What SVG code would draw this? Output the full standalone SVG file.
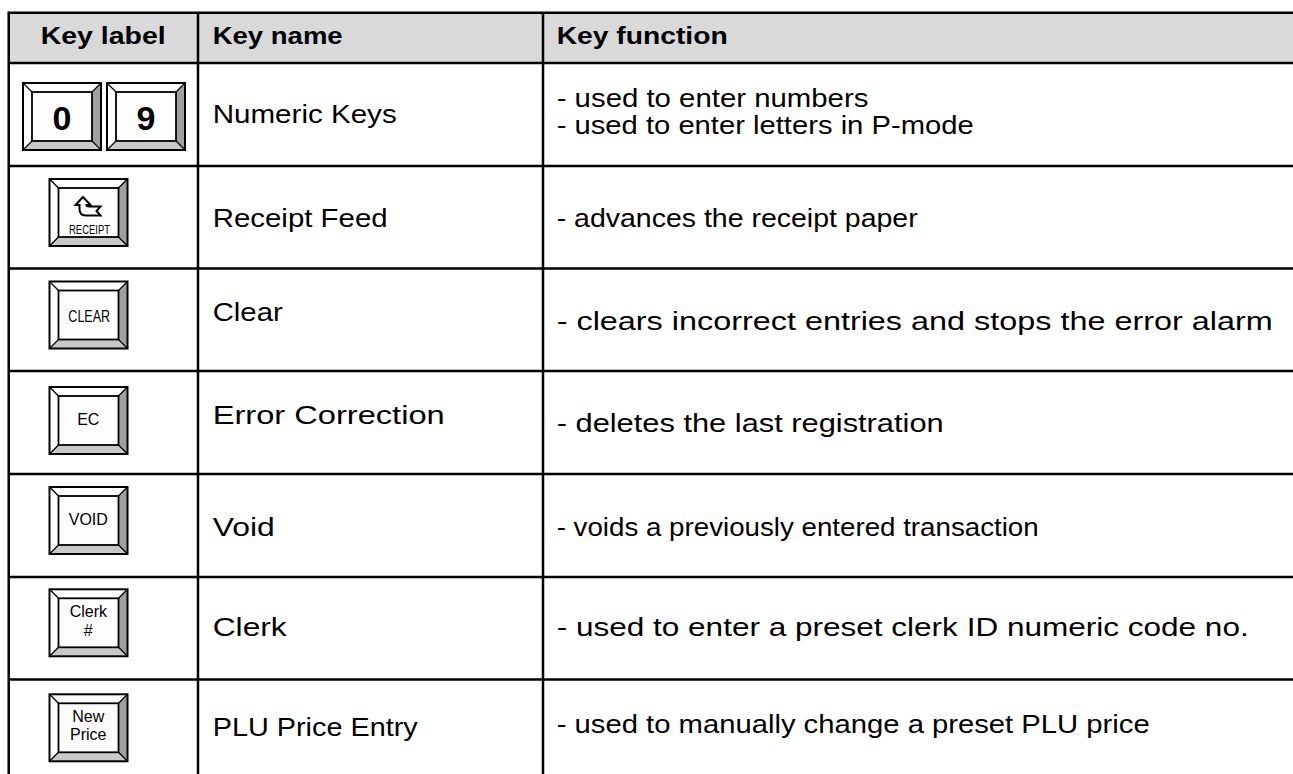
<svg xmlns="http://www.w3.org/2000/svg" xmlns:xlink="http://www.w3.org/1999/xlink" width="1293" height="774" viewBox="0 0 1293 774">
<style>
.t{font-family:"Liberation Sans",Arial,sans-serif;font-size:25.5px;fill:#000}
.h{font-family:"Liberation Sans",Arial,sans-serif;font-size:24.5px;font-weight:bold;fill:#000}
.k{font-family:"Liberation Sans",Arial,sans-serif;font-size:16px;fill:#000;text-anchor:middle}
.kb{font-family:"Liberation Sans",Arial,sans-serif;font-size:34px;font-weight:bold;fill:#000;text-anchor:middle}
.grid{stroke:#000;stroke-width:2.5;fill:none}
</style>
<defs>
<g id="key">
<polygon points="0,0 78,0 69,9 9,9" fill="#fff"/>
<polygon points="0,0 9,9 9,58 0,67" fill="#fff"/>
<polygon points="78,0 78,67 69,58 69,9" fill="#a0a0a0"/>
<polygon points="0,67 78,67 69,58 9,58" fill="#c8c8c8"/>
<rect x="9" y="9" width="60" height="49" fill="#fdfdfd" stroke="#000" stroke-width="1.8"/>
<path d="M0,0 L9,9 M78,0 L69,9 M78,67 L69,58 M0,67 L9,58" stroke="#000" stroke-width="1.3"/>
<rect x="0" y="0" width="78" height="67" fill="none" stroke="#000" stroke-width="2"/>
</g>
</defs>
<rect x="9" y="13" width="1290" height="50" fill="#d9d9d9"/>
<g id="grid" class="grid">
<path d="M8.7,12.7 H1300 M8.7,63 H1300 M8.7,166 H1300 M8.7,268.5 H1300 M8.7,371 H1300 M8.7,474 H1300 M8.7,577 H1300 M8.7,679.5 H1300"/>
<path d="M8.7,11.5 V780 M198,12.7 V780 M543,12.7 V780"/>
</g>
<g id="header">
<text class="h" x="103.2" y="44" text-anchor="middle" textLength="125" lengthAdjust="spacingAndGlyphs">Key label</text>
<text class="h" x="212.7" y="44" textLength="130" lengthAdjust="spacingAndGlyphs">Key name</text>
<text class="h" x="556.7" y="44" textLength="171" lengthAdjust="spacingAndGlyphs">Key function</text>
</g>
<g id="row-numeric">
<use xlink:href="#key" href="#key" x="23" y="83"/>
<use xlink:href="#key" href="#key" x="107" y="83"/>
<text class="kb" x="62" y="130">0</text>
<text class="kb" x="146" y="130">9</text>
<text class="t" x="212.7" y="123" textLength="184" lengthAdjust="spacingAndGlyphs">Numeric Keys</text>
<text class="t" x="556.7" y="106.7" textLength="311.7" lengthAdjust="spacingAndGlyphs">- used to enter numbers</text>
<text class="t" x="556.7" y="134" textLength="417" lengthAdjust="spacingAndGlyphs">- used to enter letters in P-mode</text>
</g>
<g id="row-receipt">
<use xlink:href="#key" href="#key" x="49.5" y="179"/>
<path d="M83,197 L75.5,205 L79.5,205 L79.5,209 Q79.5,215.5 86,215.5 L100.5,215.5 L96.5,211 L100.5,206.5 L89,206.5 Q86.5,206.5 86.5,205 L90.5,205 Z" fill="#fff" stroke="#000" stroke-width="2"/>
<text class="k" x="89.5" y="234" textLength="41" lengthAdjust="spacingAndGlyphs" style="font-size:12.5px">RECEIPT</text>
<text class="t" x="212.7" y="226.5" textLength="175" lengthAdjust="spacingAndGlyphs">Receipt Feed</text>
<text class="t" x="556.7" y="226.5" textLength="361" lengthAdjust="spacingAndGlyphs">- advances the receipt paper</text>
</g>
<g id="row-clear">
<use xlink:href="#key" href="#key" x="49.5" y="281.5"/>
<text class="k" x="89.2" y="321.7" textLength="41.7" lengthAdjust="spacingAndGlyphs">CLEAR</text>
<text class="t" x="212.7" y="320.5" textLength="70" lengthAdjust="spacingAndGlyphs">Clear</text>
<text class="t" x="556.7" y="329.5" textLength="716" lengthAdjust="spacingAndGlyphs">- clears incorrect entries and stops the error alarm</text>
</g>
<g id="row-ec">
<use xlink:href="#key" href="#key" x="49.5" y="387"/>
<text class="k" x="88.3" y="425">EC</text>
<text class="t" x="212.7" y="423.5" textLength="232" lengthAdjust="spacingAndGlyphs">Error Correction</text>
<text class="t" x="556.7" y="431.5" textLength="387" lengthAdjust="spacingAndGlyphs">- deletes the last registration</text>
</g>
<g id="row-void">
<use xlink:href="#key" href="#key" x="49.5" y="487"/>
<text class="k" x="88.3" y="525">VOID</text>
<text class="t" x="212.7" y="535.5" textLength="62" lengthAdjust="spacingAndGlyphs">Void</text>
<text class="t" x="556.7" y="535.5" textLength="482" lengthAdjust="spacingAndGlyphs">- voids a previously entered transaction</text>
</g>
<g id="row-clerk">
<use xlink:href="#key" href="#key" x="49.5" y="589.3"/>
<text class="k" x="88.3" y="617.3">Clerk</text>
<text class="k" x="88.3" y="636">#</text>
<text class="t" x="212.7" y="635.5" textLength="74" lengthAdjust="spacingAndGlyphs">Clerk</text>
<text class="t" x="556.7" y="635.5" textLength="692" lengthAdjust="spacingAndGlyphs">- used to enter a preset clerk ID numeric code no.</text>
</g>
<g id="row-price">
<use xlink:href="#key" href="#key" x="49.5" y="694.3"/>
<text class="k" x="88.3" y="722.3">New</text>
<text class="k" x="88.3" y="740">Price</text>
<text class="t" x="212.7" y="735.5" textLength="205" lengthAdjust="spacingAndGlyphs">PLU Price Entry</text>
<text class="t" x="556.7" y="732.7" textLength="593" lengthAdjust="spacingAndGlyphs">- used to manually change a preset PLU price</text>
</g>
</svg>
